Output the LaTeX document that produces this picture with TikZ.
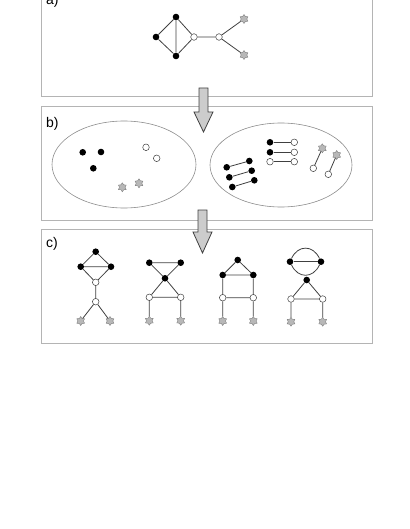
\documentclass[tikz,border=0pt]{standalone}
\usepackage{fontspec}
\setmainfont{Liberation Sans}
\usepackage{xcolor}
\usetikzlibrary{shapes.geometric}
\definecolor{dgray}{HTML}{404040}
\definecolor{boxgray}{HTML}{B4B4B4}
\definecolor{stargray}{HTML}{B8B8B8}
\definecolor{arrowgray}{HTML}{CCCCCC}
\definecolor{poolgray}{HTML}{8C8C8C}

\begin{document}
\begin{tikzpicture}[x=1pt, y=-1pt,
  blk/.style={circle, fill=black, inner sep=0pt, minimum size=6.6pt},
  wht/.style={circle, draw=dgray, line width=0.5pt, fill=white, inner sep=0pt, minimum size=6.6pt},
  hex/.style={star, star points=6, star point ratio=1.6, draw=gray, line width=0.4pt, fill=stargray, inner sep=0pt, minimum size=9pt},
  link/.style={draw=dgray, line width=0.8pt},
  panel/.style={draw=boxgray, line width=0.9pt},
  pool/.style={draw=poolgray, line width=0.6pt},
  tag/.style={anchor=base west, inner sep=0pt, font=\fontsize{14}{16}\selectfont},
  bigarrow/.style={draw=dgray, line width=0.8pt, fill=arrowgray}]
  \useasboundingbox (0,0) rectangle (409,529);
  \clip (0,0) rectangle (409,529);

  % panels
  \draw[panel] (41,-17) rectangle (372,96);
  \draw[panel] (41,106) rectangle (372,220);
  \draw[panel] (41,229) rectangle (372,343);
  \node[tag] (tagA) at (46,5) {a)};
  \node[tag] (tagB) at (46,128) {b)};
  \node[tag] (tagC) at (46,247) {c)};

  % arrows between panels
  \draw[bigarrow] (199,88) -- (208,88) -- (208,112) -- (213,112) -- (203.5,132) -- (194,112) -- (199,112) -- cycle;
  \draw[bigarrow] (198,210) -- (207,210) -- (207,232) -- (212,232) -- (202.5,253) -- (193,232) -- (198,232) -- cycle;

  % a) molecule
  \node[blk] (aL) at (156,37) {};
  \node[blk] (aT) at (176,17) {};
  \node[blk] (aB) at (176,56) {};
  \node[wht] (aW1) at (194,37) {};
  \node[wht] (aW2) at (219,37) {};
  \node[hex] (aS1) at (244,19) {};
  \node[hex] (aS2) at (244,55) {};
  \draw[link] (aL) -- (aT) -- (aB) -- (aL) (aT) -- (aW1) -- (aB) (aW1) -- (aW2) -- (aS1) (aW2) -- (aS2);

  % b) left pool: single atoms
  \draw[pool] (124,164.5) ellipse [x radius=72, y radius=43.5];
  \node[blk] (b1) at (82.7,152.3) {};
  \node[blk] (b2) at (101,152) {};
  \node[blk] (b3) at (93.3,168.3) {};
  \node[wht] (w1) at (146,147.3) {};
  \node[wht] (w2) at (156.7,158.3) {};
  \node[hex] (s1) at (122.3,187.3) {};
  \node[hex] (s2) at (139,183.3) {};

  % b) right pool: bonded pairs
  \draw[pool] (281,165) ellipse [x radius=71, y radius=42];
  \node[blk] (p1a) at (226.7,167.3) {};
  \node[blk] (p1b) at (249.3,161) {};
  \node[blk] (p2a) at (229.3,177.3) {};
  \node[blk] (p2b) at (251.7,170.7) {};
  \node[blk] (p3a) at (232.3,187) {};
  \node[blk] (p3b) at (254.3,180.3) {};
  \node[blk] (q1a) at (270,142.3) {};
  \node[wht] (q1b) at (294.3,142.3) {};
  \node[blk] (q2a) at (270,152.3) {};
  \node[wht] (q2b) at (294.3,152.3) {};
  \node[wht] (q3a) at (270,161.7) {};
  \node[wht] (q3b) at (294.3,161.7) {};
  \node[hex] (r1s) at (322.3,148.3) {};
  \node[wht] (r1w) at (313.3,168.3) {};
  \node[hex] (r2s) at (336.7,155) {};
  \node[wht] (r2w) at (328.3,174.3) {};
  \draw[link] (p1a) -- (p1b) (p2a) -- (p2b) (p3a) -- (p3b);
  \draw[link] (q1a) -- (q1b) (q2a) -- (q2b) (q3a) -- (q3b);
  \draw[link] (r1s) -- (r1w) (r2s) -- (r2w);

  % c) isomer 1
  \node[blk] (c1T) at (95.7,251.7) {};
  \node[blk] (c1L) at (80.7,266.7) {};
  \node[blk] (c1R) at (111,266.7) {};
  \node[wht] (c1W) at (95.7,282.3) {};
  \node[wht] (c1V) at (95.7,301.7) {};
  \node[hex] (c1S) at (80.7,321) {};
  \node[hex] (c1U) at (110,321) {};
  \draw[link] (c1T) -- (c1L) -- (c1R) -- (c1T) (c1L) -- (c1W) -- (c1R) (c1W) -- (c1V) -- (c1S) (c1V) -- (c1U);

  % c) isomer 2
  \node[blk] (c2L) at (149.3,262.7) {};
  \node[blk] (c2R) at (180.7,262.7) {};
  \node[blk] (c2M) at (165,278.3) {};
  \node[wht] (c2P) at (149.3,297.3) {};
  \node[wht] (c2Q) at (180.7,297.3) {};
  \node[hex] (c2S) at (149.3,320.7) {};
  \node[hex] (c2U) at (180.7,320.7) {};
  \draw[link] (c2L) -- (c2R) -- (c2M) -- (c2L) (c2M) -- (c2P) -- (c2Q) -- (c2M) (c2P) -- (c2S) (c2Q) -- (c2U);

  % c) isomer 3
  \node[blk] (c3T) at (237.7,260) {};
  \node[blk] (c3L) at (222.7,275) {};
  \node[blk] (c3R) at (253.3,275) {};
  \node[wht] (c3P) at (222.7,297.7) {};
  \node[wht] (c3Q) at (253.3,297.7) {};
  \node[hex] (c3S) at (222.7,321) {};
  \node[hex] (c3U) at (253.3,321) {};
  \draw[link] (c3T) -- (c3L) -- (c3R) -- (c3T) (c3L) -- (c3P) -- (c3Q) -- (c3R) (c3P) -- (c3S) (c3Q) -- (c3U);

  % c) isomer 4
  \node[blk] (c4L) at (290,261.7) {};
  \node[blk] (c4R) at (321,261.7) {};
  \node[blk] (c4M) at (306.7,280) {};
  \node[wht] (c4P) at (291,299) {};
  \node[wht] (c4Q) at (322.7,299) {};
  \node[hex] (c4S) at (291,321.7) {};
  \node[hex] (c4U) at (322.7,321.7) {};
  \draw[link] (c4L) -- (c4R);
  \draw[link] (c4L) to[out=65, in=115, looseness=1.4] (c4R);
  \draw[link] (c4L) to[out=-65, in=-115, looseness=1.4] (c4R);
  \draw[link] (c4M) -- (c4P) -- (c4Q) -- (c4M) (c4P) -- (c4S) (c4Q) -- (c4U);
\end{tikzpicture}
\end{document}
